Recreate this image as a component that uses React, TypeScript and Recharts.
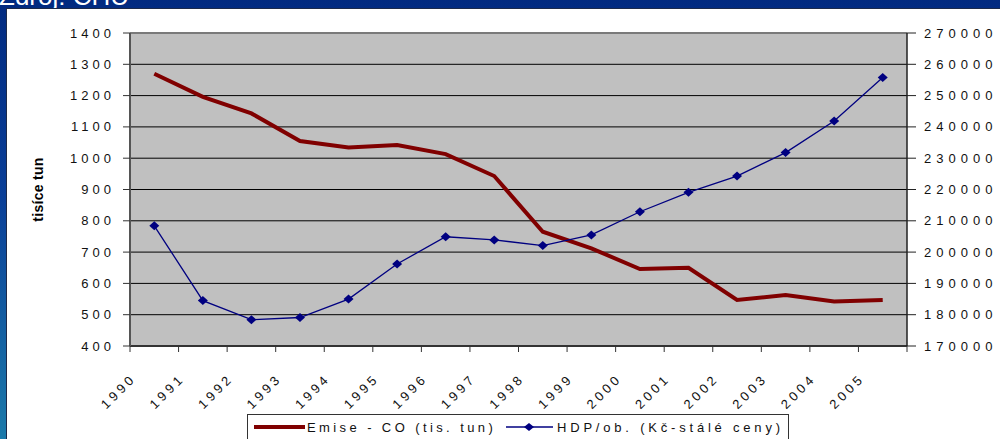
import { CartesianGrid, Line, LineChart, ReferenceLine, XAxis, YAxis } from 'recharts';

const yearLabels = ['1990', '1991', '1992', '1993', '1994', '1995', '1996', '1997', '1998', '1999', '2000', '2001', '2002', '2003', '2004', '2005'];
const emiseCO = [1270, 1196, 1143, 1055, 1034, 1042, 1013, 943, 765, 712, 646, 650, 547, 563, 542, 547];
const hdpOb = [208400, 184500, 178400, 179100, 185000, 196200, 204900, 203900, 202100, 205500, 212900, 219100, 224300, 231800, 241900, 255800];
const leftTicks = [400, 500, 600, 700, 800, 900, 1000, 1100, 1200, 1300, 1400];
const rightTicks = [170000, 180000, 190000, 200000, 210000, 220000, 230000, 240000, 250000, 260000, 270000];

const data = yearLabels.map((year, i) => ({ pos: i + 0.5, year, emise: emiseCO[i], hdp: hdpOb[i] }));
const xTicks = [...yearLabels.map((_, i) => i), yearLabels.length];

const FONT = '"Liberation Sans", Arial, sans-serif';
const RED = '#800000';
const BLUE = '#000080';

function LeftTick({ x, y, payload }: any) {
  return (
    <text x={x + 4} y={y} dy={4.5} textAnchor="end" fontFamily={FONT} fontSize={13} letterSpacing={4} fill="#111">
      {String(payload.value)}
    </text>
  );
}

function RightTick({ x, y, payload }: any) {
  return (
    <text x={x} y={y} dy={4.5} textAnchor="start" fontFamily={FONT} fontSize={13} letterSpacing={5} fill="#111">
      {String(payload.value)}
    </text>
  );
}

function YearTick({ x, y, payload }: any) {
  const label = yearLabels[payload.value] ?? '';
  const ax = x + 7;
  const ay = y + 25;
  return (
    <text x={ax} y={ay} transform={`rotate(-45 ${ax} ${ay})`} textAnchor="end" fontFamily={FONT} fontSize={13} letterSpacing={3.6} fill="#111">
      {label}
    </text>
  );
}

// axis title, centred on the plot height
function YTitle({ viewBox }: any) {
  const cx = (viewBox?.x ?? 0) + 43;
  const cy = (viewBox?.y ?? 0) + (viewBox?.height ?? 0) / 2;
  return (
    <text
      x={cx}
      y={cy}
      transform={`rotate(-90 ${cx} ${cy})`}
      textAnchor="middle"
      fontFamily={FONT}
      fontSize={14}
      fontWeight="bold"
      letterSpacing={0.3}
      fill="#000"
    >
      tisíce tun
    </text>
  );
}

function Diamond({ cx, cy }: any) {
  if (cx == null || cy == null) return null;
  return <polygon points={`${cx - 5},${cy} ${cx},${cy - 4.5} ${cx + 5},${cy} ${cx},${cy + 4.5}`} fill={BLUE} />;
}

function ChartLegend() {
  return (
    <svg width={542} height={30} style={{ position: 'absolute', left: 247, top: 414 }}>
      <rect x={0.5} y={0.5} width={541} height={40} fill="#fff" stroke="#333" />
      <line x1={7} x2={58} y1={13} y2={13} stroke={RED} strokeWidth={4} />
      <text x={60} y={18} fontFamily={FONT} fontSize={13} letterSpacing={3.4} fill="#111">
        Emise - CO (tis. tun)
      </text>
      <line x1={259} x2={306} y1={13} y2={13} stroke={BLUE} strokeWidth={1.3} />
      <polygon points="277,13 282,9 287,13 282,17" fill={BLUE} />
      <text x={310} y={18} fontFamily={FONT} fontSize={13} letterSpacing={3.8} fill="#111">
        HDP/ob. (Kč-stálé ceny)
      </text>
    </svg>
  );
}

export default function App() {
  return (
    <div
      style={{
        position: 'fixed',
        left: 0,
        top: 0,
        width: 1000,
        height: 439,
        overflow: 'hidden',
        background: 'linear-gradient(180deg, #012a80 0%, #0a3f98 45%, #1b7aaa 100%)',
      }}
    >
      <svg width={1000} height={20} style={{ position: 'absolute', left: 0, top: 0 }}>
        <text x={-1} y={4.5} fontFamily={FONT} fontSize={26} fill="#fff">
          Zdroj: ČHÚ
        </text>
      </svg>
      <div
        style={{
          position: 'absolute',
          left: 6,
          top: 8,
          width: 1000,
          height: 440,
          background: '#fff',
          borderLeft: '1.5px solid #1c2a4a',
          borderTop: '1.5px solid #1c2a4a',
        }}
      />
      <div style={{ position: 'absolute', left: 0, top: 0 }}>
        <LineChart width={1000} height={439} data={data} margin={{ top: 33, right: 0, left: 0, bottom: 0 }}>
          <CartesianGrid yAxisId="left" vertical={false} stroke="#000" strokeWidth={1} fill="#c0c0c0" fillOpacity={1} />
          <XAxis
            dataKey="pos"
            type="number"
            domain={[0, yearLabels.length]}
            ticks={xTicks}
            interval={0}
            height={93}
            tickSize={6}
            tick={<YearTick />}
            axisLine={{ stroke: '#333', strokeWidth: 2 }}
            tickLine={{ stroke: '#333' }}
          />
          <YAxis
            yAxisId="left"
            orientation="left"
            width={130}
            domain={[400, 1400]}
            ticks={leftTicks}
            interval={0}
            tickSize={7}
            tickMargin={12}
            tick={<LeftTick />}
            axisLine={{ stroke: '#555', strokeWidth: 2 }}
            tickLine={{ stroke: '#333' }}
            label={<YTitle />}
          />
          <YAxis
            yAxisId="right"
            orientation="right"
            width={93}
            domain={[170000, 270000]}
            ticks={rightTicks}
            interval={0}
            tickSize={9}
            tickMargin={8}
            tick={<RightTick />}
            axisLine={{ stroke: '#222', strokeWidth: 1.5 }}
            tickLine={{ stroke: '#222' }}
          />
          <ReferenceLine yAxisId="left" y={1400} stroke="#7a7a7a" strokeWidth={2} />
          <Line
            yAxisId="left"
            type="linear"
            dataKey="emise"
            stroke={RED}
            strokeWidth={4}
            dot={false}
            activeDot={false}
            isAnimationActive={false}
          />
          <Line
            yAxisId="right"
            type="linear"
            dataKey="hdp"
            stroke={BLUE}
            strokeWidth={1.3}
            dot={<Diamond />}
            activeDot={false}
            isAnimationActive={false}
          />
        </LineChart>
      </div>
      <ChartLegend />
    </div>
  );
}
